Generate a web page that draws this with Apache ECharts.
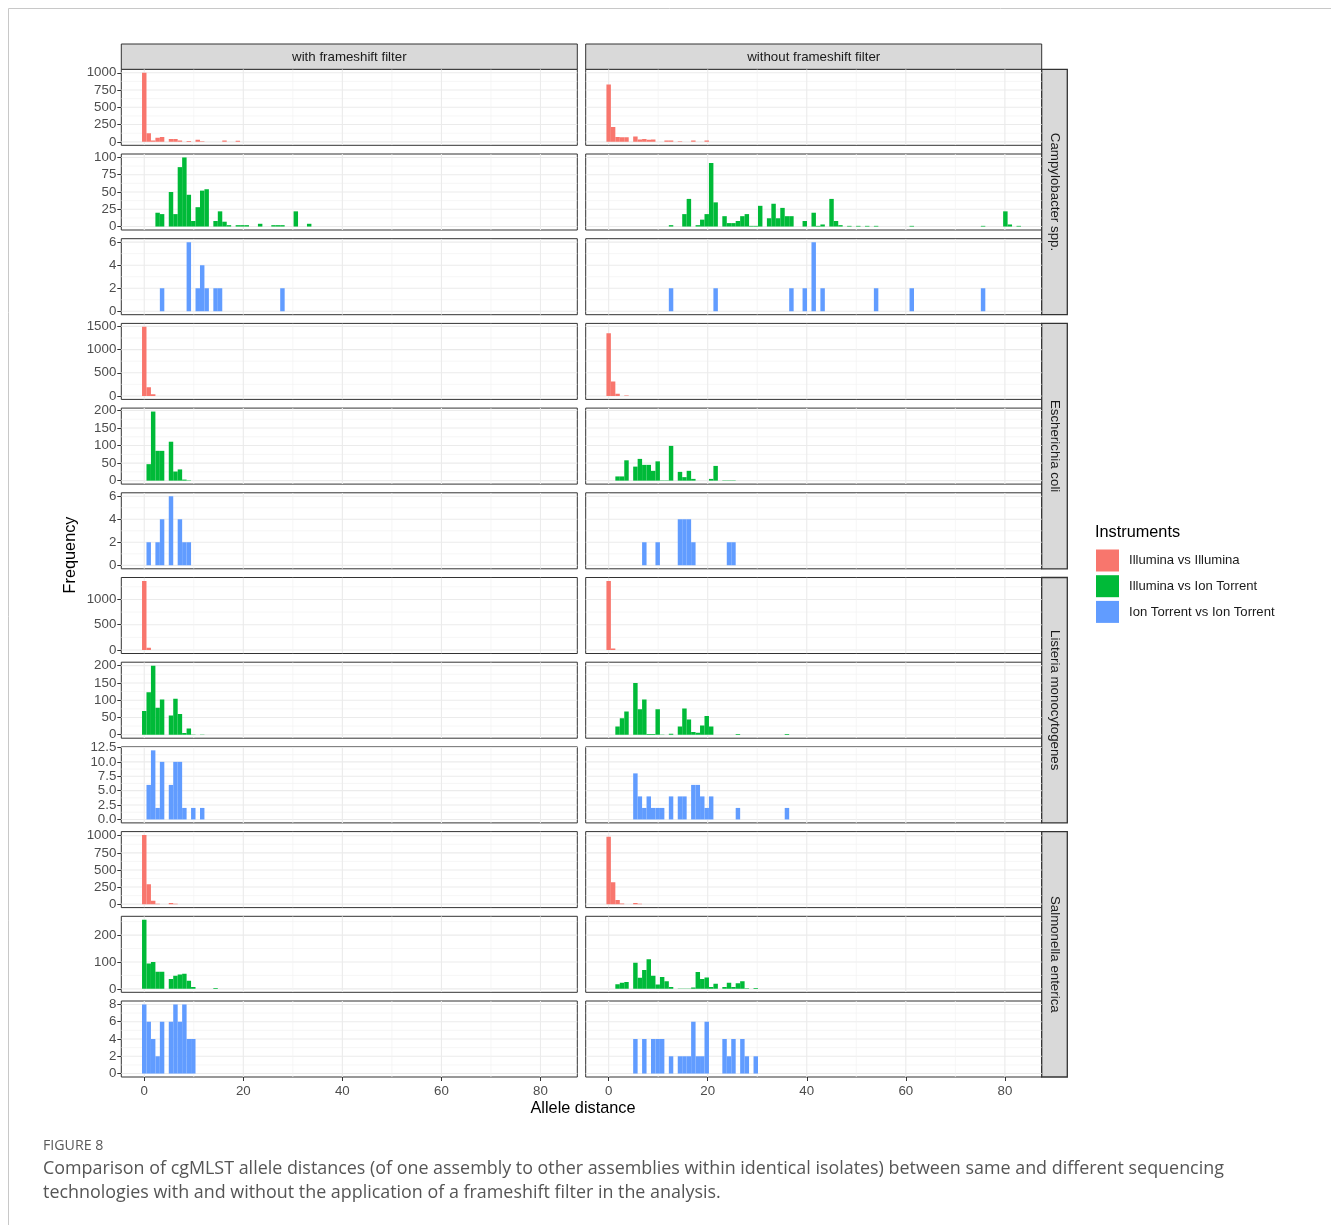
<!DOCTYPE html>
<html>
<head>
<meta charset="utf-8">
<title>cgMLST allele distances</title>
<script src="https://cdn.jsdelivr.net/npm/echarts@6.0.0/dist/echarts.min.js"></script>
<style>
html,body{margin:0;padding:0;background:#ffffff;}
#chart{width:1331px;height:1225px;}
</style>
</head>
<body>
<div id="chart"></div>
<script>
// ---------------- data ----------------
const columns = ['with frameshift filter', 'without frameshift filter'];
const species = ['Campylobacter spp.', 'Escherichia coli', 'Listeria monocytogenes', 'Salmonella enterica'];
const instruments = ['Illumina vs Illumina', 'Illumina vs Ion Torrent', 'Ion Torrent vs Ion Torrent'];
const xTickLabels = [0, 20, 40, 60, 80];
const xMinorBreaks = [10, 30, 50, 70];
const BIN_WIDTH = 0.9;   // histogram bin width used by the original figure

// [allele distance, count]
const campyWithII = [[0,1000],[1,125],[2,20],[3,60],[4,70],[5,42],[6,40],[7,18],[9,12],[11,30],[12,8],[16,20],[19,15],[26,3]];
const campyWithoutII = [[0,830],[1,215],[2,70],[3,65],[4,65],[5,77],[6,33],[7,40],[8,30],[9,35],[12,18],[13,18],[14,10],[17,18],[20,18],[27,3]];
const campyWithIT = [[3,20],[4,18],[5,50],[6,18],[7,86],[8,100],[9,46],[10,8],[11,28],[12,52],[13,54],[14,8],[15,22],[16,7],[17,2],[19,2],[20,2],[21,2],[23,4],[26,2],[27,2],[28,2],[31,22],[33,4]];
const campyWithoutIT = [[13,2],[15,18],[16,40],[18,2],[19,10],[20,18],[21,92],[22,35],[23,15],[24,5],[25,5],[26,8],[27,15],[28,18],[29,1],[30,1],[31,30],[32,12],[33,33],[34,12],[35,27],[36,15],[37,15],[40,8],[41,20],[42,1],[43,3],[45,40],[46,8],[47,2],[49,1],[50,1],[52,1],[54,1],[61,1],[76,1],[80,22],[81,3],[83,1]];
const campyWithTT = [[4,2],[9,6],[11,2],[12,4],[13,2],[14,2],[15,2],[28,2]];
const campyWithoutTT = [[13,2],[22,2],[37,2],[40,2],[41,6],[43,2],[54,2],[61,2],[76,2]];

const ecoliWithII = [[0,1490],[1,190],[2,35]];
const ecoliWithoutII = [[0,1350],[1,310],[2,45],[4,12]];
const ecoliWithIT = [[1,47],[2,197],[3,85],[4,85],[5,111],[6,26],[7,32],[8,3],[9,1]];
const ecoliWithoutIT = [[2,12],[3,12],[4,58],[5,40],[6,62],[7,45],[8,45],[9,28],[10,55],[11,1],[12,1],[13,99],[14,25],[15,10],[16,28],[17,5],[21,5],[22,42],[23,1],[24,1],[25,1]];
const ecoliWithTT = [[1,2],[3,2],[4,4],[5,6],[7,4],[8,2],[9,2]];
const ecoliWithoutTT = [[7,2],[10,2],[14,4],[15,4],[16,4],[17,2],[24,2],[25,2]];

const listeriaWithII = [[0,1365],[1,46]];
const listeriaWithoutII = [[0,1365],[1,30]];
const listeriaWithIT = [[0,69],[1,123],[2,200],[3,78],[4,102],[5,56],[6,104],[7,60],[8,5],[9,18],[10,1],[12,1]];
const listeriaWithoutIT = [[2,24],[3,48],[4,67],[5,150],[6,74],[7,102],[8,2],[9,2],[10,74],[11,1],[13,3],[14,24],[15,76],[16,44],[17,8],[18,6],[19,27],[20,54],[21,24],[26,2],[36,2]];
const listeriaWithTT = [[1,6],[2,12],[3,2],[4,10],[5,6],[6,10],[7,10],[8,2],[10,2],[12,2]];
const listeriaWithoutTT = [[5,8],[6,4],[7,2],[8,4],[9,2],[10,2],[11,2],[13,4],[14,4],[15,4],[17,6],[18,6],[19,4],[20,2],[21,4],[26,2],[36,2]];

const salmonellaWithII = [[0,1010],[1,290],[2,50],[3,5],[5,15],[6,5]];
const salmonellaWithoutII = [[0,985],[1,320],[2,60],[3,8],[5,15],[6,5]];
const salmonellaWithIT = [[0,257],[1,94],[2,100],[3,64],[4,64],[5,37],[6,49],[7,53],[8,56],[9,30],[10,7],[14,3]];
const salmonellaWithoutIT = [[2,17],[3,23],[4,25],[5,97],[6,41],[7,70],[8,110],[9,49],[10,16],[11,44],[12,28],[13,7],[14,1],[15,1],[16,1],[17,5],[18,63],[19,37],[20,42],[21,7],[22,19],[23,7],[24,23],[25,7],[26,21],[27,28],[28,2],[30,3]];
const salmonellaWithTT = [[0,8],[1,6],[2,4],[3,2],[4,6],[5,6],[6,8],[7,6],[8,8],[9,4],[10,4]];
const salmonellaWithoutTT = [[5,4],[7,4],[9,4],[10,4],[11,4],[13,2],[14,2],[15,2],[16,2],[17,6],[18,2],[19,2],[20,6],[23,4],[24,2],[25,4],[27,4],[28,2],[30,2]];

// y tick labels per row
const yTicksCampy = [[0,250,500,750,1000],[0,25,50,75,100],[0,2,4,6]];
const yTicksEcoli = [[0,500,1000,1500],[0,50,100,150,200],[0,2,4,6]];
const yTicksListeria = [[0,500,1000],[0,50,100,150,200],[0,2.5,5,7.5,10,12.5]];
const yTicksSalmonella = [[0,250,500,750,1000],[0,100,200],[0,2,4,6,8]];

// ---------------- assembly ----------------
const panelData = [
  [campyWithII, campyWithoutII], [campyWithIT, campyWithoutIT], [campyWithTT, campyWithoutTT],
  [ecoliWithII, ecoliWithoutII], [ecoliWithIT, ecoliWithoutIT], [ecoliWithTT, ecoliWithoutTT],
  [listeriaWithII, listeriaWithoutII], [listeriaWithIT, listeriaWithoutIT], [listeriaWithTT, listeriaWithoutTT],
  [salmonellaWithII, salmonellaWithoutII], [salmonellaWithIT, salmonellaWithoutIT], [salmonellaWithTT, salmonellaWithoutTT]
];
const rowTicks = [].concat(yTicksCampy, yTicksEcoli, yTicksListeria, yTicksSalmonella);

// styling / layout
const COLORS = ['#F8766D', '#00BA38', '#619CFF'];
const FONT = '"Liberation Sans", Arial, Helvetica, sans-serif';
const CAPTION_FONT = '"Open Sans", "Noto Sans", sans-serif';
const PANEL_LEFT = [121.3, 585.7];
const PANEL_W = 456;
const ROW_TOP0 = 69.3, ROW_STEP = 84.7, PANEL_H = 76;
const GRID_MAJOR = '#EBEBEB', GRID_MINOR = '#F2F2F2';

function binCounts(pairs) {
  const m = new Map();
  pairs.forEach(([d, n]) => {
    const j = Math.round(d / BIN_WIDTH);
    m.set(j, (m.get(j) || 0) + n);
  });
  return Array.from(m.entries()).map(([j, n]) => [j * BIN_WIDTH, n]);
}

const allPairs = panelData.flat().flat();
const maxDist = Math.max.apply(null, allPairs.map(p => p[0]));
const xLo = -BIN_WIDTH / 2;
const xHi = Math.round(maxDist / BIN_WIDTH) * BIN_WIDTH + BIN_WIDTH / 2;
const X_MIN = xLo - 0.05 * (xHi - xLo);
const X_MAX = xHi + 0.05 * (xHi - xLo);

const binned = panelData.map(row => row.map(binCounts));

function renderHLine(params, api) {
  const cs = params.coordSys;
  const y = api.coord([X_MIN, api.value(1)])[1];
  const major = api.value(2) === 1;
  return { type: 'line', silent: true,
    shape: { x1: cs.x, y1: y, x2: cs.x + cs.width, y2: y },
    style: { stroke: major ? GRID_MAJOR : GRID_MINOR, lineWidth: major ? 1.1 : 0.7 } };
}
function renderVLine(params, api) {
  const cs = params.coordSys;
  const x = api.coord([api.value(0), 0])[0];
  const major = api.value(2) === 1;
  return { type: 'line', silent: true,
    shape: { x1: x, y1: cs.y, x2: x, y2: cs.y + cs.height },
    style: { stroke: major ? GRID_MAJOR : GRID_MINOR, lineWidth: major ? 1.1 : 0.7 } };
}
function renderBar(params, api) {
  const c = api.value(0), n = api.value(1);
  const a = api.coord([c - BIN_WIDTH / 2, n]);
  const b = api.coord([c + BIN_WIDTH / 2, 0]);
  return { type: 'rect',
    shape: { x: a[0], y: a[1], width: b[0] - a[0], height: b[1] - a[1] },
    style: { fill: api.visual('color') } };
}

const grids = [], xAxes = [], yAxes = [], series = [];
for (let r = 0; r < 12; r++) {
  const rowMax = Math.max.apply(null, binned[r][0].concat(binned[r][1]).map(p => p[1]));
  const yMin = -0.05 * rowMax, yMax = 1.05 * rowMax;
  const ticks = rowTicks[r];
  const step = ticks[1] - ticks[0];
  const minor = [];
  [ticks[0] - step].concat(ticks).forEach(t => { const m = t + step / 2; if (m > yMin && m < yMax) minor.push(m); });
  const decimals = ticks.some(t => t % 1 !== 0);
  for (let c = 0; c < 2; c++) {
    const i = grids.length;
    const bottom = r === 11;
    grids.push({ left: PANEL_LEFT[c], top: ROW_TOP0 + r * ROW_STEP, width: PANEL_W, height: PANEL_H,
      show: true, borderColor: '#333333', borderWidth: 1, backgroundColor: '#FFFFFF', containLabel: false });
    xAxes.push({ gridIndex: i, type: 'value', min: X_MIN, max: X_MAX,
      axisLine: { show: false, onZero: false }, splitLine: { show: false },
      axisTick: { show: bottom, customValues: xTickLabels, length: 4, lineStyle: { color: '#333333', width: 1 } },
      axisLabel: { show: bottom, customValues: xTickLabels, fontSize: 13.3, color: '#4D4D4D', fontFamily: FONT, margin: 8,
        formatter: v => String(v) } });
    yAxes.push({ gridIndex: i, type: 'value', min: yMin, max: yMax,
      axisLine: { show: false, onZero: false }, splitLine: { show: false },
      axisTick: { show: c === 0, customValues: ticks, length: 4, lineStyle: { color: '#333333', width: 1 } },
      axisLabel: { show: c === 0, customValues: ticks, fontSize: 13.3, color: '#4D4D4D', fontFamily: FONT, margin: 5,
        formatter: v => decimals ? Number(v).toFixed(1) : String(v) } });
    const hData = ticks.map(t => [X_MIN, t, 1]).concat(minor.map(m => [X_MIN, m, 0]));
    const vData = xTickLabels.map(v => [v, 0, 1]).concat(xMinorBreaks.map(v => [v, 0, 0]));
    series.push({ type: 'custom', xAxisIndex: i, yAxisIndex: i, z: 1, silent: true, clip: true,
      renderItem: renderHLine, data: hData });
    series.push({ type: 'custom', xAxisIndex: i, yAxisIndex: i, z: 1, silent: true, clip: true,
      renderItem: renderVLine, data: vData });
    series.push({ type: 'custom', name: instruments[r % 3], xAxisIndex: i, yAxisIndex: i, z: 3, clip: true,
      itemStyle: { color: COLORS[r % 3] }, renderItem: renderBar, data: binned[r][c] });
  }
}

function txt(x, y, text, o) {
  return Object.assign({ type: 'text', x: x, y: y, silent: true,
    style: Object.assign({ text: text, fontFamily: FONT, fontSize: 13.3, fill: '#1A1A1A',
      textAlign: 'center', align: 'center', textVerticalAlign: 'middle', verticalAlign: 'middle' }, o.style || {}) },
    o.el || {});
}

const graphics = [];
// page frame
graphics.push({ type: 'line', silent: true, shape: { x1: 8.5, y1: 8.5, x2: 1331, y2: 8.5 }, style: { stroke: '#C8C8C8', lineWidth: 1 } });
graphics.push({ type: 'line', silent: true, shape: { x1: 8.5, y1: 8.5, x2: 8.5, y2: 1225 }, style: { stroke: '#C8C8C8', lineWidth: 1 } });
// column strips
columns.forEach((name, c) => {
  graphics.push({ type: 'rect', silent: true, shape: { x: PANEL_LEFT[c], y: 44, width: PANEL_W, height: ROW_TOP0 - 44 },
    style: { fill: '#D9D9D9', stroke: '#333333', lineWidth: 1 } });
  graphics.push(txt(PANEL_LEFT[c] + PANEL_W / 2, 57, name, {}));
});
// species strips
species.forEach((name, s) => {
  const top = ROW_TOP0 + s * 3 * ROW_STEP;
  const h = 2 * ROW_STEP + PANEL_H;
  graphics.push({ type: 'rect', silent: true, shape: { x: PANEL_LEFT[1] + PANEL_W, y: top, width: 25.6, height: h },
    style: { fill: '#D9D9D9', stroke: '#333333', lineWidth: 1.3 } });
  graphics.push(txt(PANEL_LEFT[1] + PANEL_W + 12.8, top + h / 2, name, { el: { rotation: -Math.PI / 2 } }));
});
// axis titles
graphics.push(txt(71, 555, 'Frequency', { style: { fontSize: 16.3, fill: '#000000' }, el: { rotation: Math.PI / 2 } }));
graphics.push(txt(583, 1109, 'Allele distance', { style: { fontSize: 16.3, fill: '#000000' } }));
// legend title
graphics.push(txt(1095, 533, 'Instruments', { style: { fontSize: 16.3, fill: '#000000', textAlign: 'left', align: 'left' } }));
// caption
graphics.push(txt(43, 1146, 'FIGURE 8', { style: { fontSize: 14.2, fill: '#5A5A5A', textAlign: 'left', align: 'left', fontFamily: CAPTION_FONT } }));
graphics.push(txt(43, 1169, 'Comparison of cgMLST allele distances (of one assembly to other assemblies within identical isolates) between same and different sequencing',
  { style: { fontSize: 17.9, fill: '#555555', textAlign: 'left', align: 'left', fontFamily: CAPTION_FONT } }));
graphics.push(txt(43, 1193, 'technologies with and without the application of a frameshift filter in the analysis.',
  { style: { fontSize: 17.9, fill: '#555555', textAlign: 'left', align: 'left', fontFamily: CAPTION_FONT } }));

const chart = echarts.init(document.getElementById('chart'), null, { renderer: 'canvas' });
chart.setOption({
  animation: false,
  backgroundColor: '#FFFFFF',
  textStyle: { fontFamily: FONT },
  grid: grids,
  xAxis: xAxes,
  yAxis: yAxes,
  legend: {
    orient: 'vertical', left: 1096, top: 549.5, padding: 0,
    itemWidth: 23, itemHeight: 22, itemGap: 3.7, icon: 'rect', selectedMode: false,
    data: instruments,
    textStyle: { fontSize: 13.1, color: '#1A1A1A', fontFamily: FONT, padding: [0, 0, 0, 5] }
  },
  graphic: { elements: graphics },
  series: series
});
</script>
</body>
</html>
